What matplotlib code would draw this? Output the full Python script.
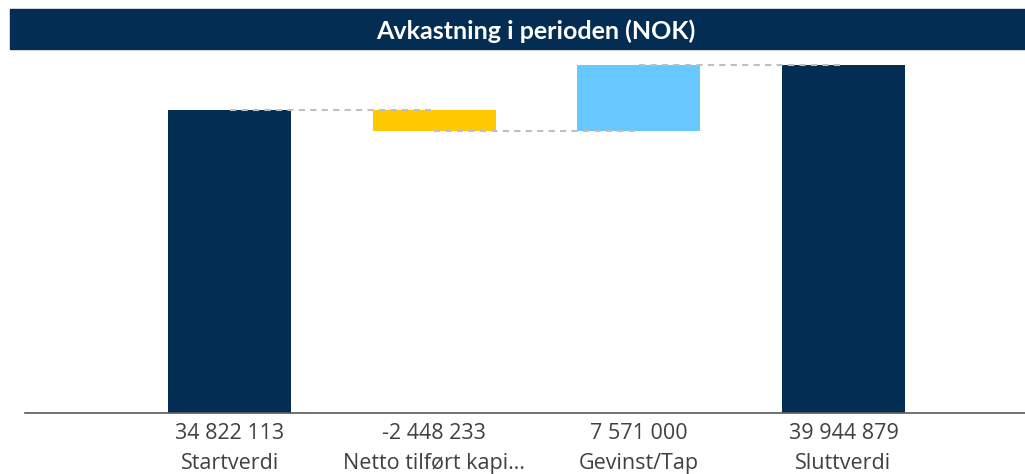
import matplotlib
matplotlib.use("Agg")
import matplotlib.pyplot as plt
from matplotlib.patches import Rectangle

categories = ["Startverdi", "Netto tilført kapi…", "Gevinst/Tap", "Sluttverdi"]
values = [34822113, -2448233, 7571000, 39944879]
value_labels = ["34 822 113", "-2 448 233", "7 571 000", "39 944 879"]
title = "Avkastning i perioden (NOK)"

NAVY = "#032D52"
YELLOW = "#FFC800"
BLUE = "#66C8FF"
TEXT = "#404040"

plt.rcParams['font.family'] = ['Lato', 'DejaVu Sans']

W, H = 1025, 474
fig = plt.figure(figsize=(W / 100, H / 100), dpi=100)

# title bar
fig.patches.append(Rectangle((10 / W, 1 - 49 / H), (W - 10) / W, 40 / H,
                             transform=fig.transFigure, color=NAVY, zorder=0))
fig.text(536 / W, 1 - 31 / H, title, color="white", fontsize=18,
         fontweight="bold", ha="center", va="center")

ax = fig.add_axes([25 / W, 1 - 413 / H, 1000 / W, 358 / H])

# waterfall geometry
bottoms, heights, colors = [], [], []
running = 0
levels = []
for i, v in enumerate(values):
    if i == 0:
        bottoms.append(0); heights.append(v); colors.append(NAVY)
        running = v
    elif i == len(values) - 1:
        bottoms.append(0); heights.append(v); colors.append(NAVY)
        running = v
    else:
        new = running + v
        bottoms.append(min(running, new)); heights.append(abs(v))
        colors.append(YELLOW if v < 0 else BLUE)
        running = new
    levels.append(running)

x = list(range(len(values)))
ax.bar(x, heights, bottom=bottoms, width=0.6, color=colors, zorder=2)

for i in range(len(values) - 1):
    ax.plot([x[i], x[i + 1]], [levels[i], levels[i]], color="#BFBFBF",
            lw=1.5, ls=(0, (3, 2.5)), zorder=3)

ymax = 358 / 348 * values[-1]
ax.set_ylim(0, ymax)
ax.set_xlim(-1.0, 3.887)

for s in ["top", "right", "left"]:
    ax.spines[s].set_visible(False)
ax.spines["bottom"].set_color("#595959")
ax.spines["bottom"].set_linewidth(1.2)
ax.set_yticks([])
ax.set_xticks(x)
ax.set_xticklabels([f"{vl}\n{c}" for vl, c in zip(value_labels, categories)],
                   fontsize=15.5, color=TEXT, linespacing=1.55,
                   family=['Open Sans', 'DejaVu Sans'])
ax.tick_params(axis="x", length=0, pad=7)

fig.savefig("out.png", dpi=100)
